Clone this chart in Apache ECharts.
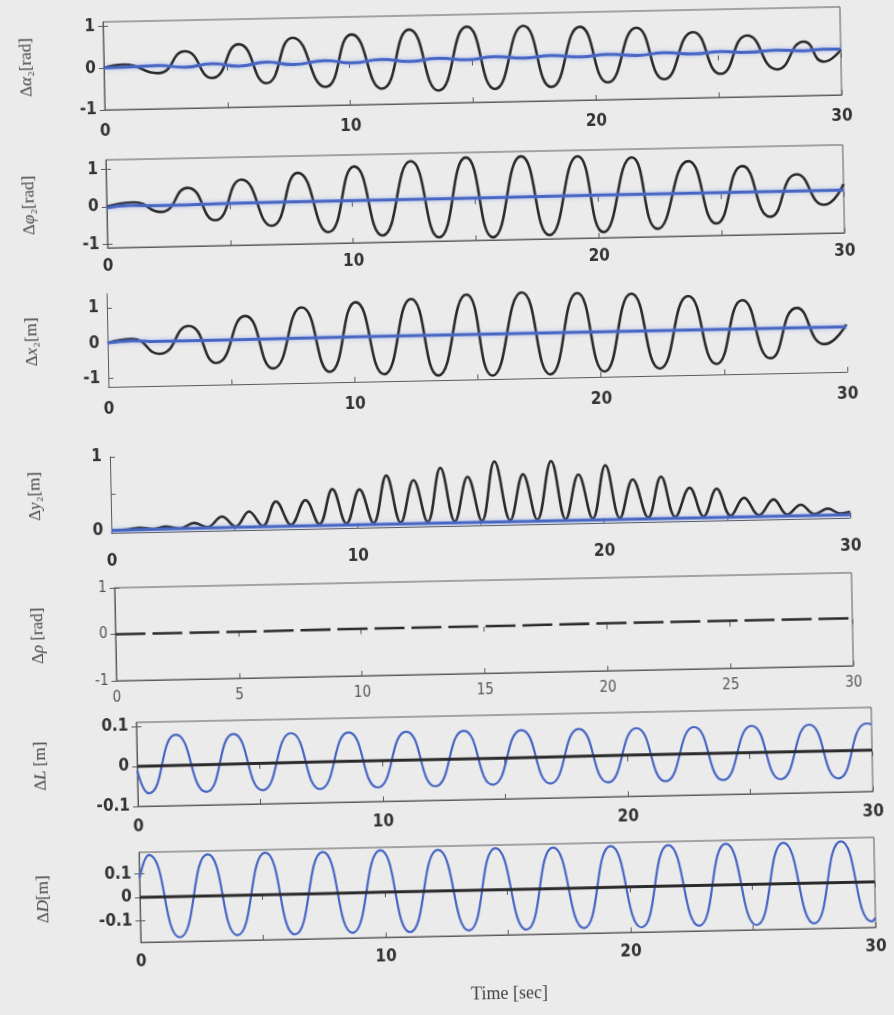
<!DOCTYPE html>
<html>
<head>
<meta charset="utf-8">
<title>Responses</title>
<script src="https://cdn.jsdelivr.net/npm/echarts@6/dist/echarts.min.js"></script>
<style>
  html, body { margin: 0; padding: 0; background: #ebebeb; overflow: hidden; }
  /* the scanned figure sits slightly tilted on the page */
  #main { width: 894px; height: 1015px; transform: rotate(-1.17deg); transform-origin: 447px 507px; }
</style>
</head>
<body>
<div id="main"></div>
<script>
// ---- data (time in sec) ----

// Δα2 [rad]
var a2Time  = [0, 0.8, 2.2, 3.3, 4.4, 5.5, 6.6, 7.7, 9.0, 10.1, 11.3, 12.45, 13.6, 14.8, 15.9, 17.1, 18.2, 19.4, 20.5, 21.7, 22.8, 24.0, 25.1, 26.2, 27.4, 28.5, 29.3, 30];
var a2Black = [0, 0.07, -0.15, 0.36, -0.29, 0.5, -0.44, 0.63, -0.56, 0.68, -0.63, 0.77, -0.7, 0.81, -0.69, 0.8, -0.67, 0.75, -0.59, 0.7, -0.54, 0.57, -0.44, 0.46, -0.36, 0.29, -0.2, 0.08];
var a2Blue  = [0, 0.01, 0.03, -0.02, 0.05, -0.02, 0.06, -0.01, 0.07, 0.0, 0.07, 0.01, 0.07, 0.02, 0.08, 0.03, 0.08, 0.03, 0.08, 0.04, 0.09, 0.05, 0.09, 0.06, 0.1, 0.07, 0.1, 0.09];

// Δφ2 [rad]
var p2Time  = [0, 1.1, 2.2, 3.3, 4.4, 5.5, 6.7, 7.8, 9.0, 10.1, 11.2, 12.4, 13.5, 14.65, 15.7, 16.9, 18.0, 19.2, 20.2, 21.4, 22.4, 23.7, 24.8, 25.9, 27.0, 28.1, 29.2, 30];
var p2Black = [0, 0.1, -0.17, 0.46, -0.42, 0.65, -0.6, 0.8, -0.8, 0.94, -0.92, 1.05, -1.0, 1.12, -1.03, 1.12, -1.0, 1.09, -0.95, 1.03, -0.89, 0.9, -0.78, 0.74, -0.63, 0.49, -0.34, 0.2];
var p2BlueTime = [0, 1, 2, 5, 10, 15, 20, 25, 30];
var p2Blue     = [-0.03, 0.02, 0.0, 0.02, 0.03, 0.03, 0.04, 0.04, 0.04];

// Δx2 [m]
var x2Time  = [0, 1.0, 2.1, 3.3, 4.4, 5.6, 6.7, 7.9, 9.0, 10.1, 11.2, 12.35, 13.4, 14.6, 15.6, 16.85, 17.95, 19.1, 20.15, 21.3, 22.4, 23.6, 24.7, 25.8, 26.9, 28.0, 29.1, 30];
var x2Black = [0, 0.1, -0.34, 0.44, -0.63, 0.69, -0.82, 0.9, -0.95, 1.02, -1.05, 1.08, -1.12, 1.17, -1.15, 1.2, -1.15, 1.15, -1.1, 1.1, -1.05, 1.0, -0.95, 0.85, -0.82, 0.6, -0.45, 0.1];
var x2BlueTime = [0, 1, 2, 5, 10, 15, 20, 25, 30];
var x2Blue     = [0, 0.05, 0.02, 0.02, 0.03, 0.03, 0.03, 0.03, 0.03];

// Δy2 [m]
var y2Time  = [0, 0.6, 1.16, 1.7, 2.2, 2.8, 3.36, 3.9, 4.5, 5.05, 5.6, 6.15, 6.7, 7.3, 7.9, 8.45, 9.0, 9.55, 10.1, 10.65, 11.2, 11.75, 12.3, 12.85, 13.4, 13.95, 14.5, 15.05, 15.6, 16.2, 16.75, 17.3, 17.9, 18.45, 19.0, 19.55, 20.1, 20.65, 21.2, 21.8, 22.35, 22.9, 23.5, 24.05, 24.6, 25.15, 25.7, 26.3, 26.9, 27.45, 28.0, 28.55, 29.1, 29.6, 30];
var y2Black = [0, 0.01, 0.03, 0.01, 0.04, 0.01, 0.08, 0.02, 0.16, 0.02, 0.22, 0.02, 0.35, 0.03, 0.36, 0.03, 0.5, 0.03, 0.49, 0.03, 0.67, 0.03, 0.6, 0.03, 0.76, 0.03, 0.63, 0.03, 0.83, 0.03, 0.65, 0.03, 0.82, 0.03, 0.63, 0.03, 0.75, 0.03, 0.55, 0.03, 0.58, 0.03, 0.42, 0.03, 0.4, 0.03, 0.27, 0.03, 0.24, 0.03, 0.16, 0.03, 0.1, 0.03, 0.05];
var y2BlueTime = [0, 5, 10, 15, 20, 25, 30];
var y2Blue     = [0, 0.01, 0.01, 0.01, 0.01, 0.01, 0.01];

// Δρ [rad]
var rhoTime = [0, 5, 10, 15, 20, 25, 30];
var rhoVal  = [0, 0.0, 0.01, 0.01, 0.02, 0.02, 0.02];

// ΔL [m]
var lTime  = [0, 0.45, 1.6, 2.8, 3.95, 5.1, 6.3, 7.45, 8.65, 9.8, 11.0, 12.15, 13.35, 14.5, 15.7, 16.85, 18.05, 19.2, 20.4, 21.55, 22.75, 23.9, 25.1, 26.25, 27.45, 28.6, 29.8, 30];
var lBlue  = [-0.01, -0.068, 0.077, -0.067, 0.076, -0.066, 0.075, -0.066, 0.074, -0.065, 0.073, -0.065, 0.072, -0.064, 0.071, -0.064, 0.071, -0.064, 0.07, -0.064, 0.07, -0.064, 0.07, -0.065, 0.07, -0.066, 0.07, 0.068];
var lBlackTime = [0, 5, 10, 15, 20, 25, 30];
var lBlack     = [0, 0.001, 0.002, 0.002, 0.003, 0.003, 0.003];

// ΔD [m]
var dTime  = [0, 0.4, 1.6, 2.8, 3.95, 5.15, 6.3, 7.5, 8.65, 9.85, 11.0, 12.2, 13.4, 14.55, 15.75, 16.9, 18.1, 19.25, 20.45, 21.6, 22.8, 23.95, 25.15, 26.3, 27.5, 28.65, 29.85, 30];
var dBlue  = [0.08, 0.178, -0.172, 0.176, -0.168, 0.178, -0.17, 0.176, -0.168, 0.178, -0.17, 0.175, -0.168, 0.177, -0.17, 0.175, -0.168, 0.176, -0.17, 0.175, -0.168, 0.176, -0.17, 0.175, -0.168, 0.176, -0.165, -0.15];
var dBlackTime = [0, 5, 10, 15, 20, 25, 30];
var dBlack     = [0, 0.0, 0.001, 0.001, 0.002, 0.002, 0.002];

// ---- layout ----
var BLACK = '#2b2b2b';
var BLUE = '#4766c4';
var TXT = '#333';
var labelFont = "'Liberation Sans Narrow', 'DejaVu Sans Condensed', 'Liberation Sans', sans-serif";
var serif = "'Liberation Serif', 'DejaVu Serif', serif";

function pairs(t, v) {
  return t.map(function (x, i) { return [x, v[i]]; });
}

var panels = [
  { grid: { left: 113, right: 44, top: 15, height: 88 }, box: true, min: -1, max: 1.1, yLabels: [-1, 0, 1],
    name: '{n|Δ}{i|α}{n|₂[rad]}', xMargin: 13,
    lines: [
      { data: pairs(a2Time, a2Black), color: BLACK, width: 2.6 },
      { data: pairs(a2Time, a2Blue), color: BLUE, width: 3, glow: true }
    ] },
  { grid: { left: 113, right: 44, top: 153, height: 88 }, box: true, min: -1.1, max: 1.25, yLabels: [-1, 0, 1],
    name: '{n|Δ}{i|φ}{n|₂[rad]}', xMargin: 10,
    lines: [
      { data: pairs(p2Time, p2Black), color: BLACK, width: 2.6 },
      { data: pairs(p2BlueTime, p2Blue), color: BLUE, width: 3, glow: true }
    ] },
  { grid: { left: 111, right: 44, top: 287, height: 93 }, box: false, min: -1.25, max: 1.4, yLabels: [-1, 0, 1],
    name: '{n|Δ}{i|x}{n|₂[m]}', xMargin: 14,
    lines: [
      { data: pairs(x2Time, x2Black), color: BLACK, width: 2.6 },
      { data: pairs(x2BlueTime, x2Blue), color: BLUE, width: 3, glow: true }
    ] },
  { grid: { left: 111, right: 44, top: 450, height: 76 }, box: false, min: -0.03, max: 1, yLabels: [0, 1], yTicks: [0, 0.5, 1],
    name: '{n|Δ}{i|y}{n|₂[m]}', xMargin: 20,
    lines: [
      { data: pairs(y2Time, y2Black), color: BLACK, width: 2.6, smooth: 0.4 },
      { data: pairs(y2BlueTime, y2Blue), color: BLUE, width: 3, glow: true }
    ] },
  { grid: { left: 113, right: 44, top: 581, height: 93 }, box: true, min: -1, max: 1, yLabels: [-1, 0, 1],
    name: '{n|Δ}{i|ρ}{n| [rad]}', xMargin: 10, every5: true, light: true,
    lines: [
      { data: pairs(rhoTime, rhoVal), color: BLACK, width: 2.6, dash: [30, 7] }
    ] },
  { grid: { left: 132, right: 27, top: 716, height: 84 }, box: true, min: -0.1, max: 0.11, yLabels: [-0.1, 0, 0.1],
    name: '{n|Δ}{i|L}{n| [m]}', xMargin: 12,
    lines: [
      { data: pairs(lTime, lBlue), color: BLUE, width: 2.2 },
      { data: pairs(lBlackTime, lBlack), color: BLACK, width: 3 }
    ] },
  { grid: { left: 132, right: 27, top: 846, height: 90 }, box: true, min: -0.19, max: 0.19, yLabels: [-0.1, 0, 0.1],
    name: '{n|Δ}{i|D}{n|[m]}', xMargin: 11, title: 'Time [sec]',
    lines: [
      { data: pairs(dTime, dBlue), color: BLUE, width: 2.2 },
      { data: pairs(dBlackTime, dBlack), color: BLACK, width: 3 }
    ] }
];

var grids = [], xAxes = [], yAxes = [], series = [];

panels.forEach(function (p, k) {
  var g = p.grid;
  grids.push({
    left: g.left, right: g.right, top: g.top, height: g.height,
    show: p.box, borderColor: '#5a5a5a', borderWidth: 1, backgroundColor: 'transparent',
    outerBoundsMode: 'none', containLabel: false
  });

  var lblStyle = {
    color: p.light ? '#555' : TXT,
    fontFamily: labelFont,
    fontWeight: p.light ? 'normal' : 'bold',
    fontSize: p.light ? 15 : 17
  };

  // bottom x axis with labels
  xAxes.push({
    gridIndex: k, type: 'value', min: 0, max: 30, interval: 5, position: 'bottom',
    axisLine: { show: true, onZero: false, lineStyle: { color: '#5a5a5a', width: 1 } },
    axisTick: { show: true, inside: true, length: 5, lineStyle: { color: '#5a5a5a' } },
    splitLine: { show: false },
    axisLabel: Object.assign({
      margin: p.xMargin,
      formatter: function (v) { return (p.every5 || v % 10 === 0) ? String(v) : ''; }
    }, lblStyle),
    name: p.title || '',
    nameLocation: 'middle', nameGap: 50,
    nameTextStyle: { fontFamily: serif, fontSize: 18, color: '#444' }
  });
  // top x axis: ticks only
  xAxes.push({
    gridIndex: k, type: 'value', min: 0, max: 30, interval: 5, position: 'top', show: p.box,
    axisLine: { show: false },
    axisTick: { show: true, inside: true, length: 5, lineStyle: { color: '#5a5a5a' } },
    axisLabel: { show: false }, splitLine: { show: false }
  });

  var ticks = p.yTicks || p.yLabels;
  yAxes.push({
    gridIndex: k, type: 'value', min: p.min, max: p.max, position: 'left',
    axisLine: { show: true, onZero: false, lineStyle: { color: '#5a5a5a', width: 1 } },
    axisTick: { show: true, inside: true, length: 5, customValues: ticks, lineStyle: { color: '#5a5a5a' } },
    splitLine: { show: false },
    axisLabel: Object.assign({ margin: 8, customValues: p.yLabels }, lblStyle),
    name: p.name, nameLocation: 'middle', nameRotate: 90,
    nameGap: g.left - 44,
    nameTextStyle: {
      rich: {
        n: { fontFamily: serif, fontSize: 17, color: '#444' },
        i: { fontFamily: serif, fontSize: 17, fontStyle: 'italic', color: '#444' }
      }
    }
  });
  yAxes.push({
    gridIndex: k, type: 'value', min: p.min, max: p.max, position: 'right', show: p.box,
    axisLine: { show: false },
    axisTick: { show: true, inside: true, length: 5, customValues: ticks, lineStyle: { color: '#5a5a5a' } },
    axisLabel: { show: false }, splitLine: { show: false }
  });

  p.lines.forEach(function (ln) {
    series.push({
      type: 'line', xAxisIndex: k * 2, yAxisIndex: k * 2,
      data: ln.data, symbol: 'none', showSymbol: false, silent: true,
      smooth: ln.smooth || 0.55,
      lineStyle: {
        color: ln.color, width: ln.width, type: ln.dash || 'solid',
        shadowColor: ln.glow ? 'rgba(110,140,230,0.55)' : 'transparent',
        shadowBlur: ln.glow ? 4 : 0
      }
    });
  });
});

var chart = echarts.init(document.getElementById('main'));
chart.setOption({
  backgroundColor: '#ebebeb',
  animation: false,
  grid: grids,
  xAxis: xAxes,
  yAxis: yAxes,
  series: series
});
</script>
</body>
</html>
